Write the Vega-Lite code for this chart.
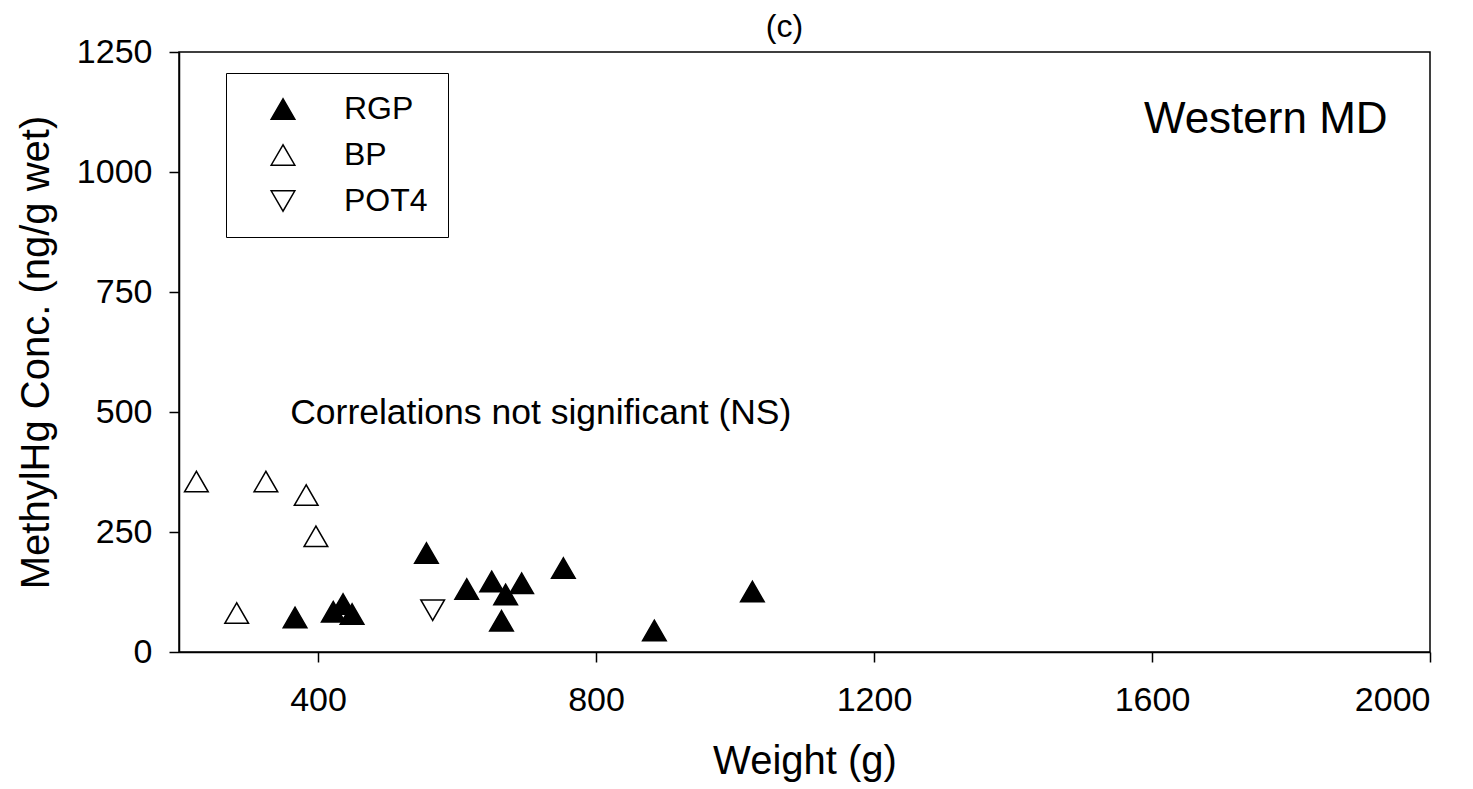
{
  "$schema": "https://vega.github.io/schema/vega-lite/v6.json",
  "width": 1251,
  "height": 600,
  "autosize": "none",
  "padding": {"left": 179, "top": 52, "right": 43, "bottom": 137},
  "background": "white",
  "title": {"text": "(c)", "fontSize": 32, "fontWeight": "normal", "font": "Liberation Sans", "color": "black", "dx": -20, "offset": -9},
  "config": {
    "font": "Liberation Sans",
    "view": {"stroke": "black", "strokeWidth": 1.5},
    "axis": {
      "grid": false,
      "domainColor": "black",
      "domainWidth": 1.5,
      "tickColor": "black",
      "tickWidth": 1.5,
      "tickSize": 10,
      "format": "d",
      "labelFont": "Liberation Sans",
      "labelFontSize": 34,
      "labelColor": "black",
      "titleFont": "Liberation Sans",
      "titleFontSize": 40,
      "titleFontWeight": "normal",
      "titleColor": "black"
    },
    "legend": {
      "title": null, "orient": "none", "legendX": 47, "legendY": 21,
      "strokeColor": "black", "padding": 20,
      "symbolOffset": 21, "labelOffset": 45, "labelFontSize": 32, "labelColor": "black",
      "labelFont": "Liberation Sans", "rowPadding": 14, "symbolSize": 560,
      "symbolStrokeWidth": 1.5, "symbolOpacity": 1
    }
  },
  "layer": [
    {
      "data": {"values": [
        {"species": "RGP", "weight": 367, "conc": 72},
        {"species": "RGP", "weight": 422, "conc": 84},
        {"species": "RGP", "weight": 436, "conc": 100},
        {"species": "RGP", "weight": 449, "conc": 79},
        {"species": "RGP", "weight": 556, "conc": 206},
        {"species": "RGP", "weight": 614, "conc": 131},
        {"species": "RGP", "weight": 650, "conc": 147},
        {"species": "RGP", "weight": 670, "conc": 120},
        {"species": "RGP", "weight": 693, "conc": 143},
        {"species": "RGP", "weight": 664, "conc": 65},
        {"species": "RGP", "weight": 753, "conc": 175},
        {"species": "RGP", "weight": 884, "conc": 45},
        {"species": "RGP", "weight": 1025, "conc": 126},
        {"species": "BP", "weight": 225, "conc": 355},
        {"species": "BP", "weight": 325, "conc": 355},
        {"species": "BP", "weight": 383, "conc": 327},
        {"species": "BP", "weight": 397, "conc": 241},
        {"species": "BP", "weight": 283, "conc": 81},
        {"species": "POT4", "weight": 565, "conc": 87}
      ]},
      "mark": {"type": "point", "filled": false, "strokeWidth": 1.5, "size": 560, "opacity": 1},
      "encoding": {
        "x": {"field": "weight", "type": "quantitative", "title": "Weight (g)",
              "scale": {"domain": [200, 2000], "nice": false, "zero": false},
              "axis": {"values": [400, 800, 1200, 1600, 2000], "labelPadding": 21, "titlePadding": 24}},
        "y": {"field": "conc", "type": "quantitative", "title": "MethylHg Conc. (ng/g wet)",
              "scale": {"domain": [0, 1250], "nice": false},
              "axis": {"values": [0, 250, 500, 750, 1000, 1250], "labelPadding": 17, "titlePadding": 20}},
        "shape": {"field": "species", "type": "nominal",
                  "scale": {"domain": ["RGP", "BP", "POT4"], "range": ["triangle-up", "triangle-up", "triangle-down"]}},
        "fill": {"field": "species", "type": "nominal",
                 "scale": {"domain": ["RGP", "BP", "POT4"], "range": ["black", "white", "white"]}},
        "stroke": {"field": "species", "type": "nominal",
                 "scale": {"domain": ["RGP", "BP", "POT4"], "range": ["black", "black", "black"]}}
      }
    },
    {
      "data": {"values": [{"label": "Western MD", "weight": 1939, "conc": 1081}]},
      "mark": {"type": "text", "align": "right", "baseline": "alphabetic", "fontSize": 44, "font": "Liberation Sans", "color": "black"},
      "encoding": {
        "x": {"field": "weight", "type": "quantitative"},
        "y": {"field": "conc", "type": "quantitative"},
        "text": {"field": "label"}
      }
    },
    {
      "data": {"values": [{"label": "Correlations not significant (NS)", "weight": 360, "conc": 476}]},
      "mark": {"type": "text", "align": "left", "baseline": "alphabetic", "fontSize": 35.5, "font": "Liberation Sans", "color": "black"},
      "encoding": {
        "x": {"field": "weight", "type": "quantitative"},
        "y": {"field": "conc", "type": "quantitative"},
        "text": {"field": "label"}
      }
    }
  ]
}
